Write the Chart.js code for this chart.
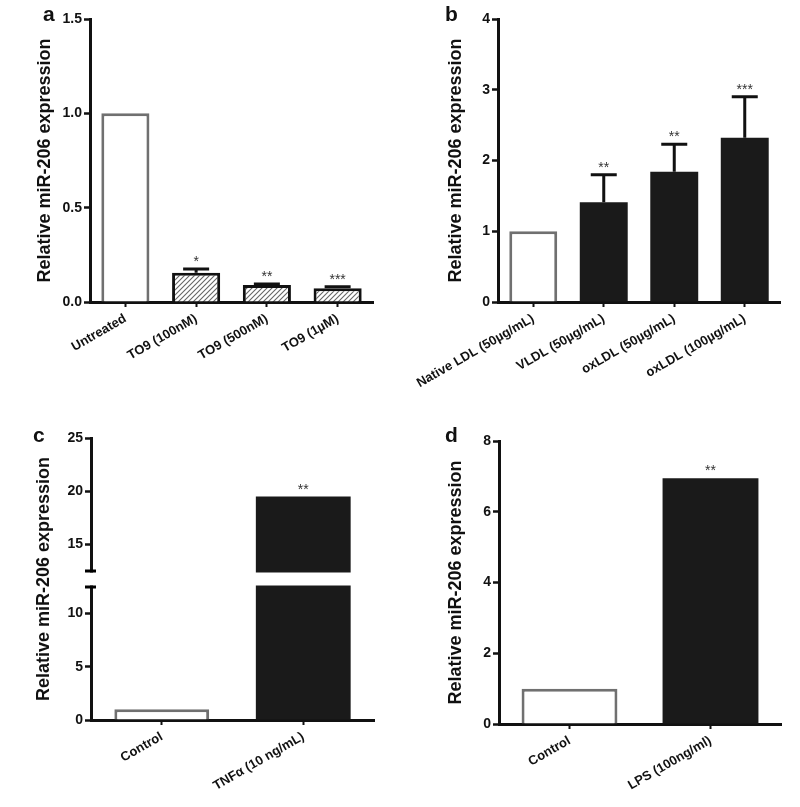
<!DOCTYPE html>
<html>
<head>
<meta charset="utf-8">
<script src="https://cdn.jsdelivr.net/npm/chart.js@4.4.1/dist/chart.umd.min.js"></script>
<style>
  body { margin: 0; background: #fff; }
  #wrap { position: relative; width: 800px; height: 807px; }
  #wrap canvas { position: absolute; }
  .tag { position: absolute; font: bold 21px 'Liberation Sans', Arial, sans-serif; line-height: 21px; color: #111; }
</style>
</head>
<body>
<div id="wrap">
  <canvas id="chartA" width="400" height="400" style="left:0;top:0"></canvas>
  <canvas id="chartB" width="400" height="400" style="left:400px;top:0"></canvas>
  <canvas id="chartC" width="400" height="407" style="left:0;top:400px"></canvas>
  <canvas id="chartD" width="400" height="407" style="left:400px;top:400px"></canvas>
  <div class="tag" style="left:43px;top:3px">a</div>
  <div class="tag" style="left:445px;top:3px">b</div>
  <div class="tag" style="left:33px;top:424px">c</div>
  <div class="tag" style="left:445px;top:424px">d</div>
</div>
<script>
// panel a - TO9 treatment
const aLabels = ['Untreated', 'TO9 (100nM)', 'TO9 (500nM)', 'TO9 (1\u00B5M)'];
const aValues = [1.0, 0.155, 0.09, 0.073];
const aSem = [0, 0.02, 0.005, 0.008];
const aStars = ['', '*', '**', '***'];
const aTicks = ['0.0', '0.5', '1.0', '1.5'];

// panel b - lipoproteins
const bLabels = ['Native LDL (50\u00B5g/mL)', 'VLDL (50\u00B5g/mL)', 'oxLDL (50\u00B5g/mL)', 'oxLDL (100\u00B5g/mL)'];
const bValues = [1.0, 1.41, 1.84, 2.32];
const bSem = [0, 0.39, 0.39, 0.58];
const bStars = ['', '**', '**', '***'];

// panel c - TNFa (broken axis)
const cLabels = ['Control', 'TNF\u03B1 (10 ng/mL)'];
const cValues = [1.0, 19.5];
const cStars = ['', '**'];

// panel d - LPS
const dLabels = ['Control', 'LPS (100ng/ml)'];
const dValues = [1.0, 6.95];
const dStars = ['', '**'];

const FONT = "'Liberation Sans', Arial, sans-serif";
Chart.defaults.font.family = FONT;
Chart.defaults.color = '#111';

const C_BREAK = 12.5;  // axis break value in panel c
const C_GAP = 16;      // break gap, px

// linear scale with a gap at C_BREAK
class BrokenLinearScale extends Chart.LinearScale {
  getPixelForValue(value) {
    const ppu = (this.bottom - this.top - C_GAP) / (this.max - this.min);
    let px = this.bottom - (value - this.min) * ppu;
    if (value > C_BREAK) px -= C_GAP;
    return px;
  }
}
BrokenLinearScale.id = 'brokenLinear';
BrokenLinearScale.defaults = Chart.LinearScale.defaults;
Chart.register(BrokenLinearScale);

// hatch fill for panel a
function hatch() {
  const c = document.createElement('canvas');
  c.width = 5; c.height = 5;
  const g = c.getContext('2d');
  g.fillStyle = '#fff';
  g.fillRect(0, 0, 5, 5);
  g.strokeStyle = '#666';
  g.lineWidth = 1.1;
  g.beginPath();
  g.moveTo(-1, 6); g.lineTo(6, -1);
  g.moveTo(-1, 1); g.lineTo(1, -1);
  g.moveTo(4, 6); g.lineTo(6, 4);
  g.stroke();
  return g.createPattern(c, 'repeat');
}

// upper error bars + significance stars
function errStars(sem, stars) {
  return {
    id: 'errStars',
    afterDatasetsDraw(chart) {
      const ctx = chart.ctx, y = chart.scales.y;
      const vals = chart.data.datasets[0].data;
      ctx.save();
      chart.getDatasetMeta(0).data.forEach((bar, i) => {
        let top = bar.y;
        if (sem && sem[i] > 0) {
          const ey = y.getPixelForValue(vals[i] + sem[i]);
          ctx.strokeStyle = '#111';
          ctx.lineWidth = 3;
          ctx.beginPath();
          ctx.moveTo(bar.x, top); ctx.lineTo(bar.x, ey);
          ctx.moveTo(bar.x - 13, ey); ctx.lineTo(bar.x + 13, ey);
          ctx.stroke();
          top = ey;
        }
        if (stars[i]) {
          ctx.fillStyle = '#333';
          ctx.font = '14px ' + FONT;
          ctx.textAlign = 'center';
          ctx.textBaseline = 'alphabetic';
          ctx.fillText(stars[i], bar.x, top - 3);
        }
      });
      ctx.restore();
    }
  };
}

const axisBreak = {
  id: 'axisBreak',
  afterDraw(chart) {
    const y = chart.scales.y, a = chart.chartArea, ctx = chart.ctx;
    const lo = y.getPixelForValue(C_BREAK);
    const hi = lo - C_GAP;
    ctx.save();
    ctx.fillStyle = '#fff';
    ctx.fillRect(a.left - 10, hi + 1.5, a.right - a.left + 10, C_GAP - 3);
    ctx.strokeStyle = '#000';
    ctx.lineWidth = 3;
    ctx.beginPath();
    ctx.moveTo(a.left - 6, hi); ctx.lineTo(a.left + 5, hi);
    ctx.moveTo(a.left - 6, lo); ctx.lineTo(a.left + 5, lo);
    ctx.stroke();
    ctx.restore();
  }
};

function makeChart(id, o) {
  return new Chart(document.getElementById(id), {
    type: 'bar',
    data: {
      labels: o.labels,
      datasets: [{
        data: o.values,
        backgroundColor: o.fills,
        borderColor: o.borders,
        borderWidth: o.bw,
        borderSkipped: 'start',
        barPercentage: o.barPct,
        categoryPercentage: 1
      }]
    },
    options: {
      responsive: false,
      animation: false,
      events: [],
      layout: { padding: o.pad },
      plugins: { legend: { display: false }, tooltip: { enabled: false } },
      scales: {
        x: {
          grid: { drawOnChartArea: false, offset: false, tickLength: 5, tickWidth: 2, tickColor: '#111' },
          border: { width: 3, color: '#111' },
          ticks: { minRotation: 30, maxRotation: 30, padding: 4, autoSkip: false,
                   font: { size: 13, weight: 'bold' }, color: '#111' },
          afterFit: s => { s.height = o.xh; }
        },
        y: {
          type: o.yType || 'linear',
          min: o.min, max: o.max,
          grid: { drawOnChartArea: false, tickLength: 6, tickWidth: 2.5, tickColor: '#111' },
          border: { width: 3, color: '#111' },
          ticks: { stepSize: o.step, padding: 2, font: { size: 14, weight: 'bold' }, color: '#111',
                   callback: o.tickFmt || (v => v) },
          title: { display: true, text: 'Relative miR-206 expression', padding: 0,
                   font: { size: 18, weight: 'bold' }, color: '#111' },
          afterFit: s => { s.width = o.yw; }
        }
      }
    },
    plugins: o.plugins
  });
}

const pat = hatch();
const whiteBar = '#fff', grayEdge = '#707070', black = '#1a1a1a';

makeChart('chartA', {
  labels: aLabels, values: aValues,
  fills: [whiteBar, pat, pat, pat],
  borders: [grayEdge, '#111', '#111', '#111'], bw: 3,
  barPct: 0.68, min: 0, max: 1.5, step: 0.5,
  tickFmt: (v, i) => aTicks[i],
  pad: { left: 34, top: 19, right: 27, bottom: 0 }, yw: 56, xh: 98,
  plugins: [errStars(aSem, aStars)]
});

makeChart('chartB', {
  labels: bLabels, values: bValues,
  fills: [whiteBar, black, black, black],
  borders: [grayEdge, black, black, black], bw: [3, 0, 0, 0],
  barPct: 0.68, min: 0, max: 4, step: 1,
  pad: { left: 45, top: 19, right: 20, bottom: 0 }, yw: 53, xh: 98,
  plugins: [errStars(bSem, bStars)]
});

makeChart('chartC', {
  labels: cLabels, values: cValues,
  fills: [whiteBar, black],
  borders: [grayEdge, black], bw: [3, 0],
  barPct: 0.67, min: 0, max: 25, step: 5, yType: 'brokenLinear',
  pad: { left: 33, top: 38, right: 26, bottom: 0 }, yw: 58, xh: 87,
  plugins: [errStars(null, cStars), axisBreak]
});

makeChart('chartD', {
  labels: dLabels, values: dValues,
  fills: [whiteBar, black],
  borders: [grayEdge, black], bw: [3, 0],
  barPct: 0.68, min: 0, max: 8, step: 2,
  pad: { left: 45, top: 41, right: 19, bottom: 0 }, yw: 54, xh: 83,
  plugins: [errStars(null, dStars)]
});
</script>
</body>
</html>
